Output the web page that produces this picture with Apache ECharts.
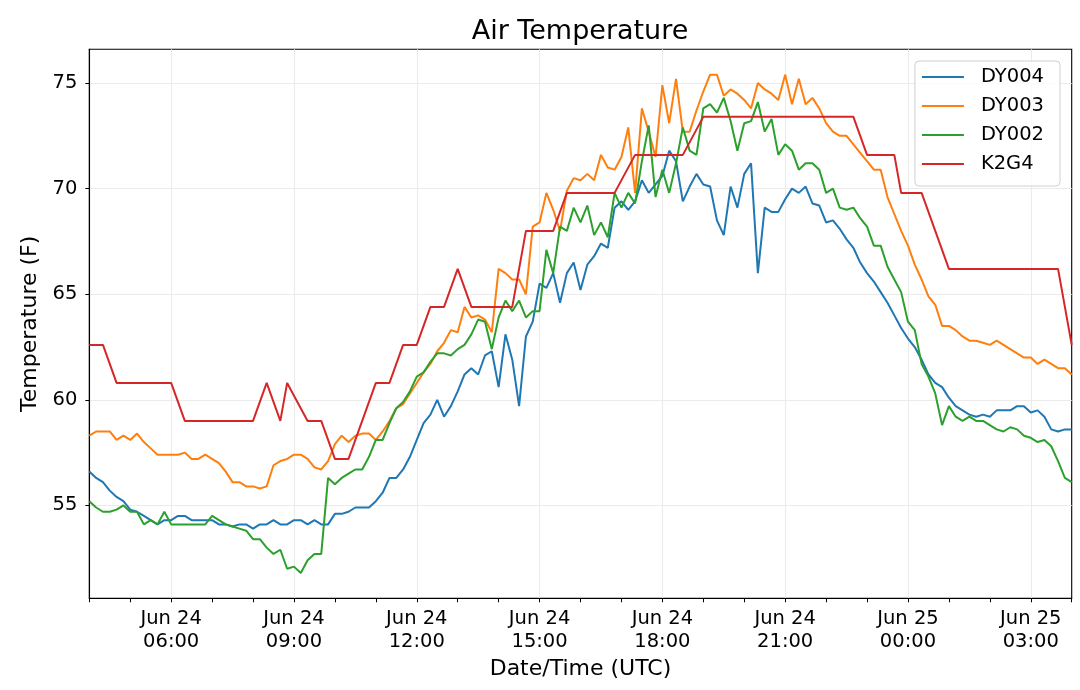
<!DOCTYPE html>
<html>
<head>
<meta charset="utf-8">
<title>Air Temperature</title>
<script src="https://cdn.jsdelivr.net/npm/echarts@6/dist/echarts.min.js"></script>
<style>
  html, body { margin: 0; padding: 0; background: #fff; }
  #chart { width: 1080px; height: 690px; }
</style>
</head>
<body>
<div id="chart"></div>
<script>
// 10-minute readings, Jun 24 04:00 UTC -> Jun 25 04:00 UTC (145 points)
var seriesNames = ['DY004', 'DY003', 'DY002', 'K2G4'];
var seriesColors = ['#1f77b4', '#ff7f0e', '#2ca02c', '#d62728'];
var yTicks = [55, 60, 65, 70, 75];

var dy004 = [
  56.6, 56.3, 56.1, 55.7, 55.4, 55.2, 54.8, 54.7, 54.5, 54.3,
  54.1, 54.3, 54.3, 54.5, 54.5, 54.3, 54.3, 54.3, 54.3, 54.1,
  54.1, 54.0, 54.1, 54.1, 53.9, 54.1, 54.1, 54.3, 54.1, 54.1,
  54.3, 54.3, 54.1, 54.3, 54.1, 54.1, 54.6, 54.6, 54.7, 54.9,
  54.9, 54.9, 55.2, 55.6, 56.3, 56.3, 56.7, 57.3, 58.1, 58.9,
  59.3, 60.0, 59.2, 59.7, 60.4, 61.2, 61.5, 61.2, 62.1, 62.3,
  60.6, 63.1, 61.9, 59.7, 63.0, 63.7, 65.5, 65.3, 66.0, 64.6,
  66.0, 66.5, 65.2, 66.4, 66.8, 67.4, 67.2, 69.1, 69.4, 69.0,
  69.4, 70.4, 69.8, 70.2, 70.6, 71.8, 71.3, 69.4, 70.1, 70.7,
  70.2, 70.1, 68.5, 67.8, 70.1, 69.1, 70.7, 71.2, 66.0, 69.1,
  68.9, 68.9, 69.5, 70.0, 69.8, 70.1, 69.3, 69.2, 68.4, 68.5,
  68.1, 67.6, 67.2, 66.5, 66.0, 65.6, 65.1, 64.6, 64.0, 63.4,
  62.9, 62.5, 61.9, 61.2, 60.8, 60.6, 60.1, 59.7, 59.5, 59.3,
  59.2, 59.3, 59.2, 59.5, 59.5, 59.5, 59.7, 59.7, 59.4, 59.5,
  59.2, 58.6, 58.5, 58.6, 58.6
];

var dy003 = [
  58.3, 58.5, 58.5, 58.5, 58.1, 58.3, 58.1, 58.4, 58.0, 57.7,
  57.4, 57.4, 57.4, 57.4, 57.5, 57.2, 57.2, 57.4, 57.2, 57.0,
  56.6, 56.1, 56.1, 55.9, 55.9, 55.8, 55.9, 56.9, 57.1, 57.2,
  57.4, 57.4, 57.2, 56.8, 56.7, 57.1, 57.9, 58.3, 58.0, 58.3,
  58.4, 58.4, 58.1, 58.5, 59.0, 59.6, 59.8, 60.3, 60.8, 61.3,
  61.7, 62.3, 62.7, 63.3, 63.2, 64.4, 63.9, 64.0, 63.8, 63.2,
  66.2, 66.0, 65.7, 65.7, 65.0, 68.2, 68.4, 69.8, 69.0, 68.0,
  69.9, 70.5, 70.4, 70.7, 70.4, 71.6, 71.0, 70.9, 71.5, 72.9,
  69.8, 73.8, 72.7, 71.5, 74.9, 73.1, 75.2, 72.7, 72.7, 73.7,
  74.6, 75.4, 75.4, 74.4, 74.7, 74.5, 74.2, 73.8, 75.0, 74.7,
  74.5, 74.2, 75.4, 74.0, 75.2, 74.0, 74.3, 73.8, 73.1, 72.7,
  72.5, 72.5, 72.1, 71.7, 71.3, 70.9, 70.9, 69.6, 68.8, 68.0,
  67.3, 66.4, 65.7, 64.9, 64.5, 63.5, 63.5, 63.3, 63.0, 62.8,
  62.8, 62.7, 62.6, 62.8, 62.6, 62.4, 62.2, 62.0, 62.0, 61.7,
  61.9, 61.7, 61.5, 61.5, 61.2
];

var dy002 = [
  55.2, 54.9, 54.7, 54.7, 54.8, 55.0, 54.7, 54.7, 54.1, 54.3,
  54.1, 54.7, 54.1, 54.1, 54.1, 54.1, 54.1, 54.1, 54.5, 54.3,
  54.1, 54.0, 53.9, 53.8, 53.4, 53.4, 53.0, 52.7, 52.9, 52.0,
  52.1, 51.8, 52.4, 52.7, 52.7, 56.3, 56.0, 56.3, 56.5, 56.7,
  56.7, 57.3, 58.1, 58.1, 58.9, 59.6, 59.9, 60.4, 61.1, 61.3,
  61.8, 62.2, 62.2, 62.1, 62.4, 62.6, 63.1, 63.8, 63.7, 62.4,
  63.9, 64.7, 64.2, 64.7, 63.9, 64.2, 64.2, 67.1, 66.0, 68.2,
  68.0, 69.1, 68.4, 69.2, 67.8, 68.4, 67.7, 69.8, 69.1, 69.8,
  69.3, 71.3, 73.0, 69.6, 70.9, 69.8, 71.2, 72.9, 71.8, 71.6,
  73.8, 74.0, 73.6, 74.3, 73.2, 71.8, 73.1, 73.2, 74.1, 72.7,
  73.3, 71.6, 72.1, 71.8, 70.9, 71.2, 71.2, 70.9, 69.8, 70.0,
  69.1, 69.0, 69.1, 68.6, 68.2, 67.3, 67.3, 66.3, 65.7, 65.1,
  63.7, 63.3, 61.7, 61.1, 60.3, 58.8, 59.7, 59.2, 59.0, 59.2,
  59.0, 59.0, 58.8, 58.6, 58.5, 58.7, 58.6, 58.3, 58.2, 58.0,
  58.1, 57.8, 57.1, 56.3, 56.1
];

// airport station: reports only at some of the 10-minute slots
var k2g4 = [
  62.6, null, 62.6, null, 60.8, null, 60.8, null, 60.8, null,
  60.8, null, 60.8, null, 59.0, null, 59.0, null, 59.0, null,
  59.0, null, 59.0, null, 59.0, null, 60.8, null, 59.0, 60.8,
  null, null, 59.0, null, 59.0, null, 57.2, null, 57.2, null,
  59.0, null, 60.8, null, 60.8, null, 62.6, null, 62.6, null,
  64.4, null, 64.4, null, 66.2, null, 64.4, null, 64.4, null,
  64.4, null, 64.4, null, 68.0, null, 68.0, null, 68.0, null,
  69.8, null, 69.8, null, 69.8, null, 69.8, 69.8, null, null,
  71.6, null, 71.6, null, 71.6, null, 71.6, 71.6, null, null,
  73.4, null, 73.4, null, 73.4, null, 73.4, null, 73.4, null,
  73.4, null, 73.4, null, 73.4, null, 73.4, null, 73.4, null,
  73.4, null, 73.4, null, 71.6, null, 71.6, null, 71.6, 69.8,
  69.8, null, 69.8, null, null, null, 66.2, null, 66.2, null,
  66.2, null, 66.2, null, 66.2, null, 66.2, null, 66.2, null,
  66.2, null, 66.2, null, 62.6
];

var seriesData = [dy004, dy003, dy002, k2g4];

// category labels: every 10 minutes from Jun 24 04:00
var times = [];
for (var i = 0; i < dy004.length; i++) {
  var m = 4 * 60 + i * 10;
  var day = 24 + Math.floor(m / 1440);
  var hh = Math.floor((m % 1440) / 60);
  var mm = m % 60;
  times.push('Jun ' + day + '\n' + (hh < 10 ? '0' : '') + hh + ':' + (mm < 10 ? '0' : '') + mm);
}

var font = 'DejaVu Sans';
var myChart = echarts.init(document.getElementById('chart'));
myChart.setOption({
  animation: false,
  backgroundColor: '#fff',
  title: {
    text: 'Air Temperature',
    left: 580,
    textAlign: 'center',
    top: 18,
    padding: 0,
    textStyle: { fontFamily: font, fontSize: 27, fontWeight: 'normal', color: '#000' }
  },
  legend: {
    orient: 'vertical',
    right: 20,
    top: 61,
    data: seriesNames,
    icon: 'rect',
    itemWidth: 42,
    itemHeight: 2,
    itemGap: 9,
    padding: [6, 16, 12, 7],
    borderColor: '#d0d0d0',
    borderWidth: 1,
    borderRadius: 4,
    backgroundColor: 'rgba(255,255,255,0.8)',
    textStyle: { fontFamily: font, fontSize: 19.5, color: '#000', lineHeight: 20, padding: [0, 0, 0, 12] }
  },
  grid: {
    left: 89.3, right: 8.3, top: 49.3, bottom: 91.7,
    show: true, borderColor: '#000', borderWidth: 1.1, backgroundColor: 'transparent'
  },
  xAxis: {
    type: 'category',
    data: times,
    boundaryGap: false,
    name: 'Date/Time (UTC)',
    nameLocation: 'middle',
    nameGap: 60,
    nameTextStyle: { fontFamily: font, fontSize: 22, color: '#000' },
    axisLine: { lineStyle: { color: '#000', width: 1.1 } },
    axisTick: {
      interval: function (idx) { return idx % 6 === 0; },
      length: 4, lineStyle: { color: '#000', width: 1 }
    },
    axisLabel: {
      interval: function (idx) { return idx % 18 === 12; },
      margin: 9,
      fontFamily: font, fontSize: 19.5, color: '#000', lineHeight: 23, align: 'center'
    },
    splitLine: {
      show: true,
      interval: function (idx) { return idx % 18 === 12; },
      lineStyle: { color: '#ebebeb', width: 1.1 }
    }
  },
  yAxis: {
    type: 'value',
    min: 50.6,
    max: 76.6,
    name: 'Temperature (F)',
    nameLocation: 'middle',
    nameGap: 41,
    nameTextStyle: { fontFamily: font, fontSize: 22, color: '#000' },
    axisLine: { show: true, lineStyle: { color: '#000', width: 1.1 } },
    axisTick: { show: true, customValues: yTicks, length: 4, lineStyle: { color: '#000', width: 1 } },
    axisLabel: { customValues: yTicks, margin: 12, fontFamily: font, fontSize: 19.5, color: '#000' },
    splitLine: { show: true, lineStyle: { color: '#ebebeb', width: 1.1 } }
  },
  series: seriesNames.map(function (name, k) {
    return {
      name: name,
      type: 'line',
      data: seriesData[k],
      symbol: 'none',
      connectNulls: true,
      color: seriesColors[k],
      lineStyle: { width: 2, color: seriesColors[k] }
    };
  })
});
</script>
</body>
</html>
